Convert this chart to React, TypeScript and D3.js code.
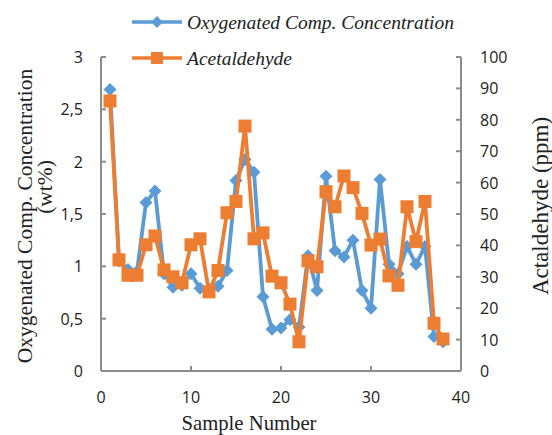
import React from "react";
import * as d3 from "d3";

const samples = d3.range(1, 39);
const oxygenated = [2.69, 1.05, 0.97, 0.95, 1.61, 1.72, 0.93, 0.8, 0.82, 0.93, 0.79, 0.78, 0.81, 0.96, 1.82, 2.02, 1.9, 0.71, 0.4, 0.41, 0.49, 0.42, 1.1, 0.77, 1.86, 1.15, 1.09, 1.25, 0.77, 0.6, 1.83, 1.02, 0.93, 1.19, 1.02, 1.19, 0.33, 0.28];
const acetaldehyde = [86, 35.4, 30.5, 30.5, 40.2, 43, 32.2, 30, 28.1, 40.2, 42.1, 25.2, 32, 50.4, 54, 78, 42.1, 44, 30.2, 28.1, 21.3, 9.3, 35.1, 33.2, 57.1, 52.3, 62.1, 58.4, 50.2, 40.1, 42, 30.3, 27.3, 52.3, 41.2, 54, 15.2, 10.2];
const xTicks = [0, 10, 20, 30, 40];
const leftTicks = [0, 0.5, 1, 1.5, 2, 2.5, 3];
const rightTicks = [0, 10, 20, 30, 40, 50, 60, 70, 80, 90, 100];
const seriesNames = ["Oxygenated Comp. Concentration", "Acetaldehyde"];

const W = 552, H = 435;
const L = 101, R = 461, T = 57, B = 371;
const BLUE = "#5B9BD5", ORANGE = "#ED7D31", AXIS = "#8C8C8C";
const SANS = "'Open Sans', 'Liberation Sans', sans-serif";
const SERIF = "'Liberation Serif', 'DejaVu Serif', serif";

export default function App() {
  const x = d3.scaleLinear().domain([0, 40]).range([L, R]);
  const yL = d3.scaleLinear().domain([0, 3]).range([B, T]);
  const yR = d3.scaleLinear().domain([0, 100]).range([B, T]);
  const lineL = d3.line<number>().x((_, i) => x(samples[i])).y((d) => yL(d));
  const lineR = d3.line<number>().x((_, i) => x(samples[i])).y((d) => yR(d));
  const fmt = (v: number) => String(v).replace(".", ",");
  const diamond = (cx: number, cy: number, r: number) => `M${cx},${cy - r}L${cx + r},${cy}L${cx},${cy + r}L${cx - r},${cy}Z`;
  const sq = 13;
  const titleStyle = { fontFamily: SERIF, fill: "#222" } as React.CSSProperties;

  return (
    <svg width={W} height={H} style={{ position: "absolute", left: 0, top: 0, background: "#fff" }}>
      {/* axes */}
      <g stroke={AXIS} strokeWidth={2} fill="none">
        <line x1={L} y1={T} x2={L} y2={B} />
        <line x1={R} y1={T} x2={R} y2={B} />
        <line x1={L} y1={B} x2={R} y2={B} />
        {leftTicks.map((t) => <line key={"lt" + t} x1={L} x2={L + 5} y1={yL(t)} y2={yL(t)} />)}
        {rightTicks.map((t) => <line key={"rt" + t} x1={R - 5} x2={R} y1={yR(t)} y2={yR(t)} />)}
        {xTicks.map((t) => <line key={"xt" + t} x1={x(t)} x2={x(t)} y1={B} y2={B - 5} />)}
      </g>
      {/* tick labels */}
      <g fontFamily={SANS} fontSize={16} fill="#222">
        {leftTicks.map((t) => (
          <text key={"ll" + t} x={83} y={yL(t)} textAnchor="end" dominantBaseline="central">{fmt(t)}</text>
        ))}
        {rightTicks.map((t) => (
          <text key={"rl" + t} x={480} y={yR(t)} textAnchor="start" dominantBaseline="central">{t}</text>
        ))}
        {xTicks.map((t) => (
          <text key={"xl" + t} x={x(t)} y={397} textAnchor="middle" dominantBaseline="central">{t}</text>
        ))}
      </g>
      {/* axis titles */}
      <text x={249} y={430} style={{ ...titleStyle, fontSize: "20.7px" }} textAnchor="middle">Sample Number</text>
      <text transform={`translate(32,216) rotate(-90)`} style={{ ...titleStyle, fontSize: "21.5px" }} textAnchor="middle">Oxygenated Comp. Concentration</text>
      <text transform={`translate(52,187) rotate(-90)`} style={{ ...titleStyle, fontSize: "21.5px" }} textAnchor="middle">(wt%)</text>
      <text transform={`translate(548,206) rotate(-90)`} style={{ ...titleStyle, fontSize: "23px" }} textAnchor="middle">Actaldehyde (ppm)</text>
      {/* series */}
      <path d={lineL(oxygenated) || ""} fill="none" stroke={BLUE} strokeWidth={3.8} strokeLinejoin="round" />
      {oxygenated.map((v, i) => (
        <path key={"d" + i} d={diamond(x(samples[i]), yL(v), 6.5)} fill={BLUE} />
      ))}
      <path d={lineR(acetaldehyde) || ""} fill="none" stroke={ORANGE} strokeWidth={3.8} strokeLinejoin="round" />
      {acetaldehyde.map((v, i) => (
        <rect key={"s" + i} x={x(samples[i]) - sq / 2} y={yR(v) - sq / 2} width={sq} height={sq} fill={ORANGE} />
      ))}
      {/* legend */}
      <g>
        <line x1={132} x2={182} y1={22} y2={22} stroke={BLUE} strokeWidth={3.5} />
        <path d={diamond(157, 22, 6)} fill={BLUE} />
        <text x={187} y={22} style={{ fontFamily: SERIF, fontStyle: "italic", fontSize: "19.5px", fill: "#222" }} dominantBaseline="central">{seriesNames[0]}</text>
        <line x1={132} x2={182} y1={58} y2={58} stroke={ORANGE} strokeWidth={3.5} />
        <rect x={157 - 6} y={58 - 6} width={12} height={12} fill={ORANGE} />
        <text x={187} y={58} style={{ fontFamily: SERIF, fontStyle: "italic", fontSize: "19.5px", fill: "#222" }} dominantBaseline="central">{seriesNames[1]}</text>
      </g>
    </svg>
  );
}
